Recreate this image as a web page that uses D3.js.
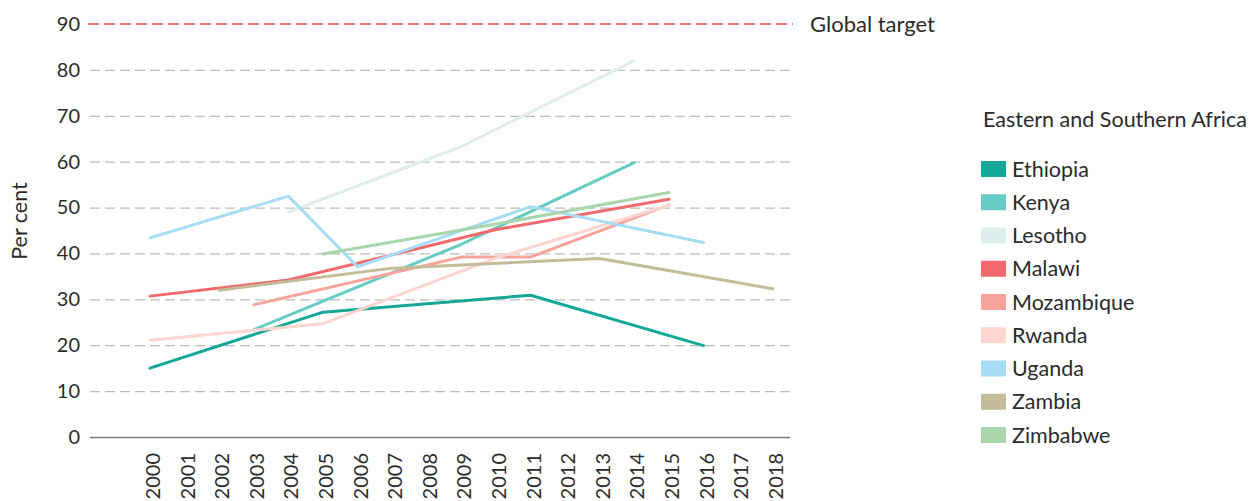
<!DOCTYPE html>
<html>
<head>
<meta charset="utf-8">
<script src="https://cdn.jsdelivr.net/npm/d3@7"></script>
<style>
  body { margin: 0; background: #fff; }
  text { font-family: Lato, "Open Sans", sans-serif; fill: #2b2b2b; }
</style>
</head>
<body>
<script>
/* data */
var years = ["2000","2001","2002","2003","2004","2005","2006","2007","2008","2009",
             "2010","2011","2012","2013","2014","2015","2016","2017","2018"];
var yTicks = [0, 10, 20, 30, 40, 50, 60, 70, 80];
var globalTarget = 90;

var countries = ["Ethiopia", "Kenya", "Lesotho", "Malawi", "Mozambique",
                 "Rwanda", "Uganda", "Zambia", "Zimbabwe"];
var colors = ["#14a898", "#66cbc2", "#dcefee", "#f26a6d", "#f7a39b",
              "#fdd5cf", "#a6ddf5", "#c4bb98", "#a9d5ad"];

var ethiopia   = [[2000, 15.0], [2005, 27.2], [2011, 30.9], [2016, 19.9]];
var kenya      = [[2003, 23.4], [2009, 42.0], [2014, 59.8]];
var lesotho    = [[2004, 49.0], [2009, 63.3], [2014, 82.0]];
var malawi     = [[2000, 30.7], [2004, 34.2], [2010, 45.2], [2015, 51.8]];
var mozambique = [[2003, 28.8], [2009, 39.2], [2011, 39.2], [2015, 50.6]];
var rwanda     = [[2000, 21.1], [2005, 24.7], [2010, 39.0], [2015, 50.5]];
var uganda     = [[2000, 43.4], [2004, 52.5], [2006, 37.1], [2011, 50.2], [2016, 42.4]];
var zambia     = [[2002, 32.0], [2007, 36.8], [2013, 38.9], [2018, 32.3]];
var zimbabwe   = [[2005, 39.9], [2010, 46.4], [2015, 53.3]];

var series = [ethiopia, kenya, lesotho, malawi, mozambique, rwanda, uganda, zambia, zimbabwe];

var W = 1252, H = 501;

var svg = d3.select("body").append("svg")
    .attr("width", W)
    .attr("height", H);

var x = d3.scaleLinear().domain([2000, 2018]).range([150, 772.7]);
var y = d3.scaleLinear().domain([0, 90]).range([437, 24]);

var left = 90, right = 790;

// y axis with dashed gridlines
var yAxis = svg.append("g")
    .attr("transform", "translate(" + left + ",0)")
    .call(d3.axisLeft(y).tickValues(yTicks).tickSize(-(right - left)).tickPadding(10));

yAxis.select(".domain").remove();
yAxis.selectAll(".tick line")
    .attr("stroke", "#bdbdbd")
    .attr("stroke-width", 1.3)
    .attr("stroke-dasharray", "10,5");
yAxis.selectAll(".tick")
    .filter(function(d) { return d === 0; })
    .select("line")
    .attr("stroke", "#7a7a7a")
    .attr("stroke-width", 1.6)
    .attr("stroke-dasharray", null);
yAxis.selectAll(".tick text")
    .style("font-size", "20px")
    .attr("fill", "#2b2b2b");

// global target
svg.append("line")
    .attr("x1", 88).attr("x2", 793)
    .attr("y1", y(globalTarget)).attr("y2", y(globalTarget))
    .attr("stroke", "#f47378")
    .attr("stroke-width", 1.8)
    .attr("stroke-dasharray", "11,5");
svg.append("text")
    .attr("x", 80).attr("y", y(globalTarget))
    .attr("dy", "0.35em")
    .attr("text-anchor", "end")
    .style("font-size", "20px")
    .text(globalTarget);
svg.append("text")
    .attr("x", 810).attr("y", y(globalTarget))
    .attr("dy", "0.35em")
    .style("font-size", "22px")
    .text("Global target");

// x labels, rotated
svg.append("g").selectAll("text")
    .data(years)
    .enter()
    .append("text")
    .attr("transform", function(d) { return "translate(" + (x(+d) + 3) + ",453) rotate(-90)"; })
    .attr("dy", "0.35em")
    .attr("text-anchor", "end")
    .style("font-size", "20px")
    .text(function(d) { return d; });

// y axis title
svg.append("text")
    .attr("transform", "translate(27,221) rotate(-90)")
    .attr("text-anchor", "middle")
    .style("font-size", "21.5px")
    .text("Per cent");

// lines
var line = d3.line()
    .x(function(d) { return x(d[0]); })
    .y(function(d) { return y(d[1]); });

svg.append("g").selectAll("path")
    .data(series)
    .enter()
    .append("path")
    .attr("d", line)
    .attr("fill", "none")
    .attr("stroke", function(d, i) { return colors[i]; })
    .attr("stroke-width", 3)
    .attr("stroke-linecap", "round")
    .attr("stroke-linejoin", "round");

// legend
svg.append("text")
    .attr("x", 983).attr("y", 127)
    .style("font-size", "21.5px")
    .text("Eastern and Southern Africa");

var legend = svg.append("g").selectAll("g")
    .data(countries)
    .enter()
    .append("g")
    .attr("transform", function(d, i) { return "translate(981," + (169 + i * 33.25) + ")"; });

legend.append("rect")
    .attr("x", 0).attr("y", -8)
    .attr("width", 25).attr("height", 16)
    .attr("fill", function(d, i) { return colors[i]; });

legend.append("text")
    .attr("x", 31).attr("dy", "0.35em")
    .style("font-size", "21.5px")
    .text(function(d) { return d; });
</script>
</body>
</html>
